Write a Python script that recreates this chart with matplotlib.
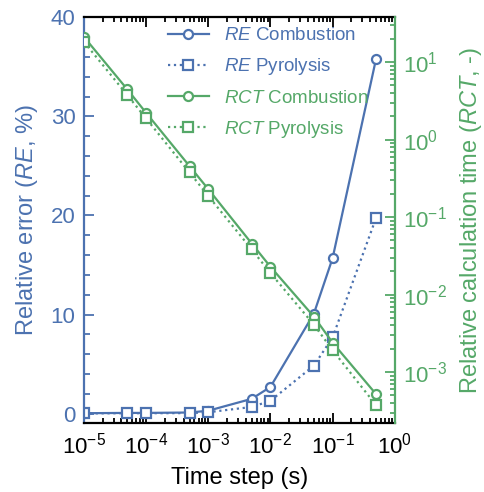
import matplotlib
matplotlib.use("Agg")
import matplotlib.pyplot as plt
from matplotlib.ticker import MultipleLocator, LogLocator, NullFormatter

plt.rcParams['font.family'] = ['Liberation Sans', 'DejaVu Sans']
plt.rcParams['mathtext.fontset'] = 'custom'
plt.rcParams['mathtext.rm'] = 'Liberation Sans'
plt.rcParams['mathtext.it'] = 'Liberation Sans:italic'

BLUE = '#4C72B0'
GREEN = '#55A868'

# time steps (s)
time_step = [1e-5, 5e-5, 1e-4, 5e-4, 1e-3, 5e-3, 1e-2, 5e-2, 1e-1, 5e-1]

# relative error (%)
re_combustion = [0.05, 0.08, 0.08, 0.12, 0.3, 1.5, 2.7, 10.1, 15.7, 35.8]
re_pyrolysis = [0.03, 0.05, 0.05, 0.06, 0.15, 0.68, 1.3, 4.85, 7.7, 19.75]

# relative calculation time (-)
rct_combustion = [21.2, 4.44, 2.22, 0.455, 0.23, 0.0457, 0.0229, 0.0052, 0.0024, 0.00052]
rct_pyrolysis = [18.3, 3.75, 1.88, 0.377, 0.188, 0.0383, 0.019, 0.0041, 0.00192, 0.000375]

fig = plt.figure(figsize=(4.85, 4.92), dpi=100)
ax = fig.add_axes([0.173, 0.140, 0.641, 0.825])
ax2 = ax.twinx()

line_kw = dict(lw=1.6, ms=6.5, mew=1.6, mfc='white')
h1, = ax.plot(time_step, re_combustion, '-o', color=BLUE, label='$RE$ Combustion', **line_kw)
h2, = ax.plot(time_step, re_pyrolysis, ':s', color=BLUE, label='$RE$ Pyrolysis', **line_kw)
h3, = ax2.plot(time_step, rct_combustion, '-o', color=GREEN, label='$RCT$ Combustion', **line_kw)
h4, = ax2.plot(time_step, rct_pyrolysis, ':s', color=GREEN, label='$RCT$ Pyrolysis', **line_kw)

ax.set_xscale('log')
ax.set_xlim(1e-5, 1)
ax.set_ylim(-0.95, 40)
ax2.set_yscale('log')
ax2.set_ylim(2.2e-4, 38)

ax.yaxis.set_major_locator(MultipleLocator(10))
ax.yaxis.set_minor_locator(MultipleLocator(2))
ax.xaxis.set_major_locator(LogLocator(base=10, numticks=10))
ax.xaxis.set_minor_locator(LogLocator(base=10, subs=range(2, 10), numticks=10))
ax.xaxis.set_minor_formatter(NullFormatter())
ax2.yaxis.set_major_locator(LogLocator(base=10, numticks=10))
ax2.yaxis.set_minor_locator(LogLocator(base=10, subs=range(2, 10), numticks=10))
ax2.yaxis.set_minor_formatter(NullFormatter())

# spines
for s in ['top', 'bottom']:
    ax.spines[s].set_linewidth(1.6)
    ax.spines[s].set_color('black')
ax.spines['left'].set_color(BLUE)
ax.spines['left'].set_linewidth(1.6)
ax.spines['right'].set_visible(False)
for s in ['left', 'top', 'bottom']:
    ax2.spines[s].set_visible(False)
ax2.spines['right'].set_color(GREEN)
ax2.spines['right'].set_linewidth(1.6)

ax.tick_params(axis='x', which='both', direction='in', top=True, bottom=True,
               labelsize=16, width=1.3, pad=7)
ax.tick_params(axis='x', which='major', length=7)
ax.tick_params(axis='x', which='minor', length=3.5)
ax.tick_params(axis='y', which='both', direction='in', colors=BLUE,
               labelsize=16, width=1.3, pad=6)
ax.tick_params(axis='y', which='major', length=7)
ax.tick_params(axis='y', which='minor', length=4.5)
ax2.tick_params(axis='y', which='both', direction='in', colors=GREEN,
                labelsize=16, width=1.3, pad=6)
ax2.tick_params(axis='y', which='major', length=7)
ax2.tick_params(axis='y', which='minor', length=3.5)

ax.set_xlabel('Time step (s)', fontsize=17, labelpad=6)
ax.set_ylabel('Relative error ($RE$, %)', fontsize=17, color=BLUE, labelpad=8)
ax2.set_ylabel('Relative calculation time ($RCT$, -)', fontsize=17, color=GREEN, labelpad=8)

leg = ax2.legend(handles=[h1, h2, h3, h4], loc='upper left', bbox_to_anchor=(0.27, 0.975),
                 frameon=False, fontsize=13.5, handlelength=2.2, handletextpad=0.8,
                 labelspacing=0.64, borderpad=0, borderaxespad=0)
for txt, c in zip(leg.get_texts(), [BLUE, BLUE, GREEN, GREEN]):
    txt.set_color(c)

fig.savefig('out.png', dpi=100)
